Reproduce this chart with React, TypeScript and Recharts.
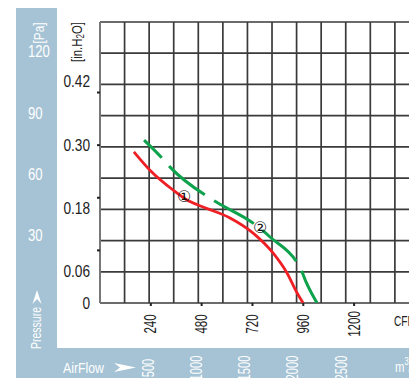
import React from 'react';
import { ComposedChart, Line, XAxis, YAxis, CartesianGrid, ReferenceDot } from 'recharts';

// axis ticks
const cfmTicks = [240, 480, 720, 960, 1200];
const m3hTicks = [500, 1000, 1500, 2000, 2500];
const paTicks = [30, 60, 90, 120];
const inH2oLabels = [0, 0.06, 0.18, 0.3, 0.42];
const inH2oMarks = [0.1, 0.2, 0.3, 0.4];
const gridCols = [0, 1, 2, 3, 4, 5, 6, 7, 8, 9, 10, 11, 12];
const gridRows = [0, 1, 2, 3, 4, 5, 6, 7, 8, 9];

// fan curves (CFM vs Pa)
const curve1 = [
  { cfm: 160, pa: 74 },
  { cfm: 236, pa: 65 },
  { cfm: 345, pa: 55.3 },
  { cfm: 411, pa: 50.4 },
  { cfm: 487, pa: 47 },
  { cfm: 614, pa: 41.6 },
  { cfm: 723, pa: 34.2 },
  { cfm: 817, pa: 24.5 },
  { cfm: 883, pa: 14.7 },
  { cfm: 931, pa: 4.9 },
  { cfm: 959, pa: 0 },
];
const curve2 = [
  { cfm: 208, pa: 79.7 },
  { cfm: 293, pa: 70.9 },
  { cfm: 331, pa: 66.5 },
  { cfm: 510, pa: 51.9 },
  { cfm: 557, pa: 48.9 },
  { cfm: 723, pa: 39.1 },
  { cfm: 803, pa: 32.3 },
  { cfm: 954, pa: 15.2 },
  { cfm: 973, pa: 10.3 },
  { cfm: 1025, pa: 0 },
];
const curveTags = [
  { tag: '①', cfm: 397, pa: 52 },
  { tag: '②', cfm: 756, pa: 36.7 },
];

const inH2oTicks = Array.from(new Set([...inH2oLabels, ...inH2oMarks])).sort((a, b) => a - b);
// rows that give the m3/h axis something to scale against (never drawn)
const m3hRows = m3hTicks.map((v) => ({ m3h: v, pa: 0 }));

const BAND = '#a5c3d4';
const FONT = '"Liberation Sans", Arial, sans-serif';

// condensed look: squeeze Liberation Sans digits to narrow width
const numLen = (s: string, per: number) =>
  s.split('').reduce((w, ch) => w + (ch === '.' ? per / 2 : per), 0);

const CfmTick = ({ x, y, payload }: any) => {
  const s = String(payload.value);
  return (
    <text x={x} y={y} transform={`rotate(-90 ${x} ${y})`} textAnchor="middle" dominantBaseline="central"
      fontSize={16} fill="#222" fontFamily={FONT} textLength={numLen(s, 6.4)} lengthAdjust="spacingAndGlyphs">{s}</text>
  );
};

const M3hTick = ({ x, y, payload }: any) => {
  const s = String(payload.value);
  return (
    <text x={x} y={y} transform={`rotate(-90 ${x} ${y})`} textAnchor="middle" dominantBaseline="central"
      fontSize={16} fill="#fff" fontFamily={FONT} textLength={numLen(s, 6.2)} lengthAdjust="spacingAndGlyphs">{s}</text>
  );
};

const PaTick = ({ x, y, payload }: any) => {
  const s = String(payload.value);
  return (
    <text x={x} y={y - 6} textAnchor="start" dominantBaseline="central" fontSize={16} fill="#fff" fontFamily={FONT}
      textLength={numLen(s, 7.3)} lengthAdjust="spacingAndGlyphs">{s}</text>
  );
};

const InTick = ({ x, y, payload }: any) => {
  const v = payload.value;
  const s = v === 0 ? '0' : v.toFixed(2);
  return (
    <g>
      {inH2oMarks.includes(v) && <line x1={x + 7} x2={x + 10} y1={y} y2={y} stroke="#222" strokeWidth={2} />}
      {inH2oLabels.includes(v) && (
        <text x={x} y={y} textAnchor="end" dominantBaseline="central" fontSize={16} fill="#222" fontFamily={FONT}
          textLength={numLen(s, 7.6)} lengthAdjust="spacingAndGlyphs">{s}</text>
      )}
    </g>
  );
};

const TagShape = ({ cx, cy, tag }: any) => (
  <text x={cx} y={cy} textAnchor="middle" dominantBaseline="central" fontSize={16} fill="#111" fontFamily="DejaVu Sans">
    {tag}
  </text>
);

// grid is 12.9 columns wide and 9 rows high
const colLines = ({ offset }: any) => gridCols.map((c) => offset.left + (c * offset.width) / 12.9);
const rowLines = ({ offset }: any) => gridRows.map((r) => offset.top + (r * offset.height) / 9);

export default function App() {
  return (
    <div style={{ position: 'relative', width: 417, height: 386, margin: -8, background: '#fff' }}>
      <div style={{ position: 'absolute', left: 16, top: 5, width: 41, height: 381, background: BAND }} />
      <div style={{ position: 'absolute', left: 16, top: 348, width: 401, height: 38, background: BAND }} />
      <div style={{ position: 'absolute', left: 0, top: 0 }}>
        <ComposedChart width={417} height={386} margin={{ top: 22, right: 0, bottom: 0, left: 0 }}>
          <CartesianGrid xAxisId="cfm" yAxisId="pa" stroke="#3a3a3a" strokeWidth={1.7}
            verticalCoordinatesGenerator={colLines} horizontalCoordinatesGenerator={rowLines} />
          <XAxis xAxisId="cfm" type="number" dataKey="cfm" domain={[0, 1497]} ticks={cfmTicks} allowDataOverflow
            height={45} axisLine={false} tickSize={3} tickMargin={18} tickLine={{ stroke: '#222', strokeWidth: 2 }}
            tick={<CfmTick />} interval={0} />
          <XAxis xAxisId="m3h" type="number" dataKey="m3h" domain={[0, 3288]} ticks={m3hTicks} allowDataOverflow
            height={38} axisLine={false} tickLine={false} tickSize={0} tickMargin={20} tick={<M3hTick />} interval={0} />
          <YAxis yAxisId="pa" type="number" domain={[0, 137.5]} ticks={paTicks} allowDataOverflow width={100}
            axisLine={false} tickLine={false} tickSize={0} tickMargin={72} tick={<PaTick />} interval={0} />
          <YAxis yAxisId="in" type="number" domain={[0, 0.534]} ticks={inH2oTicks} allowDataOverflow mirror
            axisLine={{ stroke: '#777', strokeWidth: 2 }} tickLine={false} tickSize={0} tickMargin={-10}
            tick={<InTick />} interval={0} />
          <Line xAxisId="m3h" yAxisId="pa" data={m3hRows} dataKey="pa" stroke="none" strokeWidth={0}
            dot={false} activeDot={false} isAnimationActive={false} legendType="none" />
          <Line xAxisId="cfm" yAxisId="pa" data={curve1} dataKey="pa" type="monotone" stroke="#ee1f25"
            strokeWidth={2.8} dot={false} isAnimationActive={false} />
          <Line xAxisId="cfm" yAxisId="pa" data={curve2} dataKey="pa" type="monotone" stroke="#0ea24c"
            strokeWidth={3} strokeDasharray="46 11" strokeDashoffset={21} dot={false} isAnimationActive={false} />
          {curveTags.map((t) => (
            <ReferenceDot key={t.tag} xAxisId="cfm" yAxisId="pa" x={t.cfm} y={t.pa} r={0}
              shape={(p: any) => <TagShape {...p} tag={t.tag} />} />
          ))}
        </ComposedChart>
      </div>
      <svg width={417} height={386} style={{ position: 'absolute', left: 0, top: 0, pointerEvents: 'none' }}
        fontFamily={FONT}>
        <text x={39} y={33} transform="rotate(-90 39 33)" textAnchor="middle" dominantBaseline="central"
          fontSize={14} fill="#fff" textLength={21} lengthAdjust="spacingAndGlyphs">[Pa]</text>
        <g transform="rotate(-90 77 42)">
          <text x={57} y={42} dominantBaseline="central" fontSize={14} fill="#222"
            textLength={40} lengthAdjust="spacingAndGlyphs">
            [in.H<tspan dy={3} fontSize={10}>2</tspan><tspan dy={-3} fontSize={14}>O]</tspan>
          </text>
        </g>
        <text x={35} y={328} transform="rotate(-90 35 328)" textAnchor="middle" dominantBaseline="central"
          fontSize={15} fill="#fff" textLength={42} lengthAdjust="spacingAndGlyphs">Pressure</text>
        <path d="M37,290 L41.5,304 L37,299 L32.5,304 Z" fill="#fff" />
        <text x={63} y={367} dominantBaseline="central" fontSize={15} fill="#fff"
          textLength={41} lengthAdjust="spacingAndGlyphs">AirFlow</text>
        <path d="M114,363 L136,367.5 L114,372 L120,367.5 Z" fill="#fff" />
        <text x={394} y={320} dominantBaseline="central" fontSize={15} fill="#222"
          textLength={22} lengthAdjust="spacingAndGlyphs">CFM</text>
        <text x={395} y={366} dominantBaseline="central" fontSize={15} fill="#fff"
          textLength={23} lengthAdjust="spacingAndGlyphs">
          m<tspan dy={-5} fontSize={10}>3</tspan><tspan dy={5} fontSize={15}>/h</tspan>
        </text>
      </svg>
    </div>
  );
}
